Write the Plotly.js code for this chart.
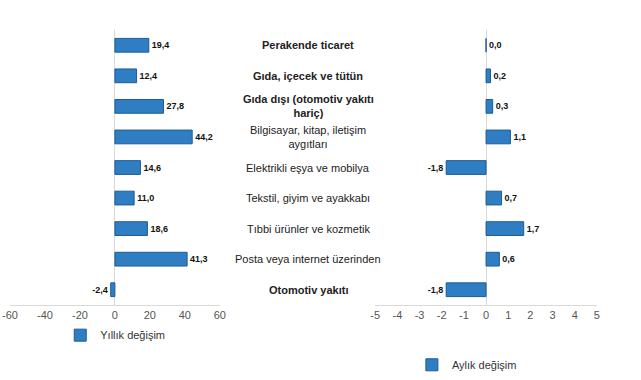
<!DOCTYPE html>
<html>
<head>
<meta charset="utf-8">
<script src="https://cdn.plot.ly/plotly-3.0.1.min.js"></script>
<style>html,body{margin:0;padding:0;background:#fff;}#chart{width:641px;height:380px;}</style>
</head>
<body>
<div id="chart"></div>
<script>
const categories = [
  "Perakende ticaret",
  "Gıda, içecek ve tütün",
  "Gıda dışı (otomotiv yakıtı<br>hariç)",
  "Bilgisayar, kitap, iletişim<br>aygıtları",
  "Elektrikli eşya ve mobilya",
  "Tekstil, giyim ve ayakkabı",
  "Tıbbi ürünler ve kozmetik",
  "Posta veya internet üzerinden",
  "Otomotiv yakıtı"
];
const boldCategories = [true, true, true, false, false, false, false, false, true];
const yillik = [19.4, 12.4, 27.8, 44.2, 14.6, 11.0, 18.6, 41.3, -2.4];
const aylik = [0.0, 0.2, 0.3, 1.1, -1.8, 0.7, 1.7, 0.6, -1.8];
const yillikTicks = [-60, -40, -20, 0, 20, 40, 60];
const aylikTicks = [-5, -4, -3, -2, -1, 0, 1, 2, 3, 4, 5];

const fmt = v => v.toFixed(1).replace('.', ',');
const ids = categories.map((c, i) => 'c' + i);
const barColor = '#2f7ec3';
const lineColor = '#1d5c94';

const traces = [
  {
    type: 'bar', orientation: 'h', name: 'Yıllık değişim',
    y: ids, x: yillik, text: yillik.map(v => '<b>' + fmt(v) + '</b>'), textposition: 'outside',
    textfont: {family: 'Liberation Sans, Arial', size: 9, color: '#111'},
    marker: {color: barColor, line: {color: lineColor, width: 1}},
    xaxis: 'x', yaxis: 'y', legend: 'legend', cliponaxis: false,
    hoverinfo: 'none'
  },
  {
    type: 'bar', orientation: 'h', name: 'Aylık değişim',
    y: ids, x: aylik, text: aylik.map(v => '<b>' + fmt(v) + '</b>'), textposition: 'outside',
    textfont: {family: 'Liberation Sans, Arial', size: 9, color: '#111'},
    marker: {color: barColor, line: {color: lineColor, width: 1}},
    xaxis: 'x2', yaxis: 'y2', legend: 'legend2', cliponaxis: false,
    hoverinfo: 'none'
  }
];

const axisFont = {family: 'Liberation Sans, Arial', size: 11, color: '#555'};
const annotations = categories.map((c, i) => ({
  xref: 'paper', yref: 'y', x: 0.505, y: ids[i],
  text: boldCategories[i] ? '<b>' + c + '</b>' : c,
  showarrow: false, xanchor: 'center', yanchor: 'middle',
  font: {family: 'Liberation Sans, Arial', size: 11, color: '#222'}
}));

const layout = {
  width: 641, height: 380,
  margin: {l: 10, r: 40, t: 30, b: 75, autoexpand: false},
  paper_bgcolor: '#fff', plot_bgcolor: '#fff',
  showlegend: true,
  bargap: 0.55,
  xaxis: {
    domain: [0, 0.355], range: [-60, 60], tickvals: yillikTicks,
    ticktext: yillikTicks.map(String),
    showgrid: false, zeroline: true, zerolinecolor: '#d9d9d9', zerolinewidth: 1,
    showline: true, linecolor: '#d9d9d9', ticks: '', tickfont: axisFont,
    anchor: 'y', fixedrange: true
  },
  yaxis: {
    domain: [0, 1], type: 'category', categoryarray: ids, autorange: 'reversed',
    showticklabels: false, showgrid: false, showline: false, ticks: '', zeroline: false,
    anchor: 'x', fixedrange: true
  },
  xaxis2: {
    domain: [0.618, 0.993], range: [-5, 5], tickvals: aylikTicks,
    ticktext: aylikTicks.map(String),
    showgrid: false, zeroline: true, zerolinecolor: '#d9d9d9', zerolinewidth: 1,
    showline: true, linecolor: '#d9d9d9', ticks: '', tickfont: axisFont,
    anchor: 'y2', fixedrange: true
  },
  yaxis2: {
    domain: [0, 1], type: 'category', categoryarray: ids, autorange: 'reversed',
    showticklabels: false, showgrid: false, showline: false, ticks: '', zeroline: false,
    anchor: 'x2', fixedrange: true
  },
  legend: {
    x: 0.085, y: 0.118, yref: 'container', xanchor: 'left', yanchor: 'middle', orientation: 'h',
    font: {family: 'Liberation Sans, Arial', size: 11, color: '#333'},
    bgcolor: 'rgba(0,0,0,0)'
  },
  legend2: {
    x: 0.68, y: 0.04, yref: 'container', xanchor: 'left', yanchor: 'middle', orientation: 'h',
    font: {family: 'Liberation Sans, Arial', size: 11, color: '#333'},
    bgcolor: 'rgba(0,0,0,0)'
  },
  annotations: annotations
};

Plotly.newPlot('chart', traces, layout, {displayModeBar: false, staticPlot: true});
</script>
</body>
</html>
